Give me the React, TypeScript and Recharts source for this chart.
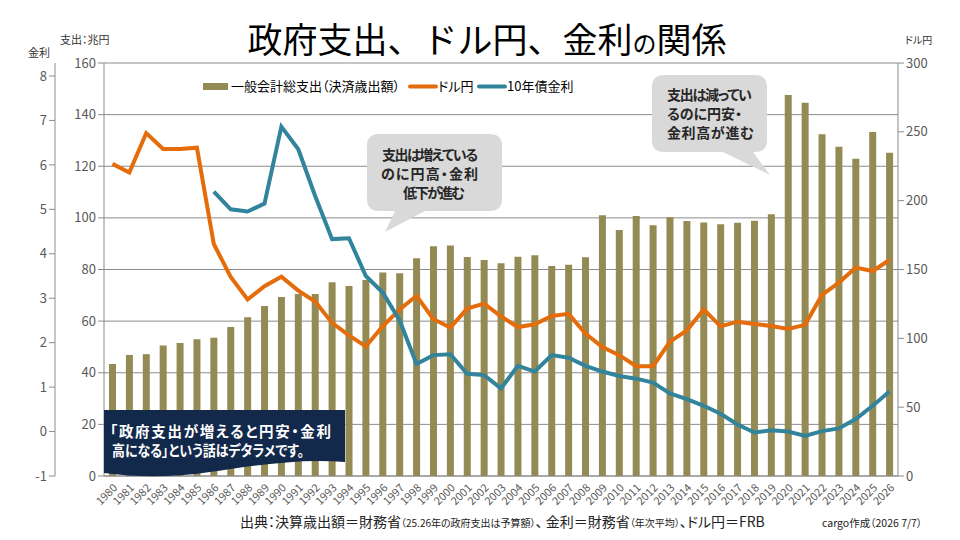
import React from 'react';
import { ComposedChart, Bar, Line, XAxis, YAxis, CartesianGrid } from 'recharts';

// Fiscal years on the category axis
const years = [
  '1980', '1981', '1982', '1983', '1984', '1985', '1986', '1987', '1988', '1989',
  '1990', '1991', '1992', '1993', '1994', '1995', '1996', '1997', '1998', '1999',
  '2000', '2001', '2002', '2003', '2004', '2005', '2006', '2007', '2008', '2009',
  '2010', '2011', '2012', '2013', '2014', '2015', '2016', '2017', '2018', '2019',
  '2020', '2021', '2022', '2023', '2024', '2025', '2026',
];

// General account total expenditure (trillion yen)
const spending = [
  43.4, 46.9, 47.2, 50.6, 51.5, 53.0, 53.6, 57.7, 61.5, 65.9,
  69.3, 70.5, 70.5, 75.1, 73.6, 75.9, 78.8, 78.5, 84.4, 89.0,
  89.3, 84.8, 83.7, 82.4, 84.9, 85.5, 81.4, 81.8, 84.7, 101.0,
  95.3, 100.7, 97.1, 100.2, 98.8, 98.2, 97.5, 98.1, 98.9, 101.4,
  147.6, 144.6, 132.4, 127.6, 122.9, 133.3, 125.2,
];

// USD/JPY annual average
const usdJpy = [
  226.7, 220.5, 249.1, 237.5, 237.5, 238.5, 168.5, 144.6, 128.2, 137.9,
  144.8, 134.7, 126.7, 111.2, 102.2, 94.1, 108.8, 121.0, 130.9, 113.9,
  107.8, 121.6, 125.2, 115.9, 108.2, 110.2, 116.3, 117.8, 103.4, 93.6,
  87.8, 79.7, 79.8, 97.6, 105.7, 121.0, 108.7, 112.1, 110.4, 109.0,
  106.8, 109.8, 131.5, 140.5, 151.4, 148.9, 156.9,
];

// 10-year JGB yield (%), series starts in 1986
const jgb10y: (number | null)[] = [
  null, null, null, null, null, null, 5.4, 5.0, 4.95, 5.13,
  6.86, 6.35, 5.3, 4.33, 4.35, 3.5, 3.13, 2.5, 1.52, 1.72,
  1.74, 1.3, 1.27, 0.97, 1.48, 1.35, 1.72, 1.66, 1.48, 1.35,
  1.25, 1.19, 1.1, 0.86, 0.73, 0.58, 0.4, 0.16, -0.02, 0.03,
  0.0, -0.1, 0.01, 0.07, 0.28, 0.58, 0.9,
];

const spendingTicks = [0, 20, 40, 60, 80, 100, 120, 140, 160];
const rateTicks = [-1, 0, 1, 2, 3, 4, 5, 6, 7, 8];
const usdTicks = [0, 50, 100, 150, 200, 250, 300];

const legendLabels = ['一般会計総支出（決済歳出額）', 'ドル円', '10年債金利'];

const data = years.map((year, i) => ({
  year,
  spending: spending[i],
  usdJpy: usdJpy[i],
  jgb10y: jgb10y[i],
}));

const OLIVE = '#948A54';
const ORANGE = '#E46C0A';
const TEAL = '#31849B';
const NAVY = '#13294B';
const AXIS = '#8c8c8c';
const TICK = '#595959';
const JP = '"Noto Sans CJK JP", "Noto Sans", sans-serif';
const palt = { fontFeatureSettings: '"palt"' } as React.CSSProperties;

const tickStyle = { fontSize: 13, fill: TICK, fontFamily: JP };

export default function App() {
  return (
    <div style={{ position: 'absolute', left: 0, top: 0, width: 960, height: 540, background: '#fff', fontFamily: JP }}>
      <ComposedChart
        width={960}
        height={540}
        data={data}
        margin={{ top: 63, right: 12, bottom: 19, left: 15 }}
      >
        <CartesianGrid yAxisId="exp" vertical={false} stroke={AXIS} />
        <XAxis
          dataKey="year"
          interval={0}
          angle={-45}
          textAnchor="end"
          height={45}
          tickLine={false}
          tickSize={5}
          axisLine={{ stroke: AXIS }}
          tick={{ fontSize: 11, fill: TICK, fontFamily: JP }}
        />
        <YAxis
          yAxisId="exp"
          width={49}
          domain={[0, 160]}
          ticks={spendingTicks}
          axisLine={{ stroke: AXIS }}
          tickLine={{ stroke: AXIS }}
          tick={tickStyle}
        />
        <YAxis
          yAxisId="rate"
          width={40}
          domain={[-1, 8.2925]}
          ticks={rateTicks}
          allowDataOverflow
          axisLine={{ stroke: AXIS }}
          tickLine={{ stroke: AXIS }}
          tick={tickStyle}
        />
        <YAxis
          yAxisId="usd"
          orientation="right"
          width={50}
          domain={[0, 300]}
          ticks={usdTicks}
          axisLine={{ stroke: AXIS }}
          tickLine={{ stroke: AXIS }}
          tick={tickStyle}
        />
        <Bar yAxisId="exp" dataKey="spending" fill={OLIVE} barSize={7} isAnimationActive={false} />
        <Line
          yAxisId="usd"
          type="linear"
          dataKey="usdJpy"
          stroke={ORANGE}
          strokeWidth={4}
          dot={false}
          isAnimationActive={false}
        />
        <Line
          yAxisId="rate"
          type="linear"
          dataKey="jgb10y"
          stroke={TEAL}
          strokeWidth={4}
          dot={false}
          isAnimationActive={false}
        />
      </ComposedChart>

      <svg
        width={960}
        height={540}
        style={{ position: 'absolute', left: 0, top: 0, pointerEvents: 'none' }}
        fontFamily={JP}
      >
        {/* title */}
        <text x={487} y={53} textAnchor="middle" fontSize={35} fill="#000">
          政府支出、ドル円、金利<tspan fontSize={24}>の</tspan>関係
        </text>

        {/* axis unit captions */}
        <text x={60} y={44} fontSize={11} fill="#333" style={palt}>支出：兆円</text>
        <text x={28} y={57} fontSize={11} fill="#333" style={palt}>金利</text>
        <text x={905} y={44} fontSize={10} fill="#333" style={palt}>ドル円</text>

        {/* legend */}
        <rect x={203} y={83} width={25} height={7} fill={OLIVE} />
        <text x={231} y={91} fontSize={13} fill="#000" style={palt}>{legendLabels[0]}</text>
        <line x1={410} y1={86.5} x2={436} y2={86.5} stroke={ORANGE} strokeWidth={4} strokeLinecap="round" />
        <text x={438} y={91} fontSize={13} fill="#000" style={palt}>{legendLabels[1]}</text>
        <line x1={479} y1={86.5} x2={505} y2={86.5} stroke={TEAL} strokeWidth={4} strokeLinecap="round" />
        <text x={507} y={91} fontSize={13} fill="#000" style={palt}>{legendLabels[2]}</text>

        {/* callout: 1990s */}
        <path
          d="M 379 134 H 490 Q 502 134 502 146 V 199 Q 502 211 490 211 H 425 L 385 232 L 395 211 H 379 Q 367 211 367 199 V 146 Q 367 134 379 134 Z"
          fill="#d9d9d9"
        />
        <g fontSize={14} fontWeight={700} fill="#262626" style={palt}>
          <text x={382} y={160} textLength={96} lengthAdjust="spacing">支出は増えている</text>
          <text x={381} y={179} textLength={97} lengthAdjust="spacing">のに円高・金利</text>
          <text x={403} y={198} textLength={62} lengthAdjust="spacing">低下が進む</text>
        </g>

        {/* callout: 2020s */}
        <path
          d="M 664 75 H 755 Q 767 75 767 87 V 140 Q 767 152 755 152 H 753 L 770 175 L 723 152 H 664 Q 652 152 652 140 V 87 Q 652 75 664 75 Z"
          fill="#d9d9d9"
        />
        <g fontSize={14} fontWeight={700} fill="#262626" style={palt}>
          <text x={667} y={100} textLength={85} lengthAdjust="spacing">支出は減ってい</text>
          <text x={667} y={119} textLength={75} lengthAdjust="spacing">るのに円安・</text>
          <text x={667} y={138} textLength={87} lengthAdjust="spacing">金利高が進む</text>
        </g>

        {/* banner */}
        <path
          d="M 104 410 H 345 V 462 C 300 458 250 466 210 472 C 170 478 135 477 104 473 Z"
          fill={NAVY}
        />
        <g fontSize={14.5} fontWeight={700} fill="#fff" style={palt}>
          <text x={110} y={437} textLength={221} lengthAdjust="spacing">「政府支出が増えると円安・金利</text>
          <text x={112} y={456} textLength={192} lengthAdjust="spacingAndGlyphs">高になる」という話はデタラメです。</text>
        </g>

        {/* source note */}
        <text x={240} y={527} fontSize={14} fill="#222" style={palt}>
          出典：決算歳出額＝財務省
          <tspan fontSize={10}>（25.26年の政府支出は予算額）</tspan>
          、 金利＝財務省
          <tspan fontSize={10}>（年次平均）</tspan>
          、ドル円＝FRB
        </text>
        <text x={822} y={527} fontSize={10.5} fill="#222" style={palt}>cargo作成（2026 7/7）</text>
      </svg>
    </div>
  );
}
